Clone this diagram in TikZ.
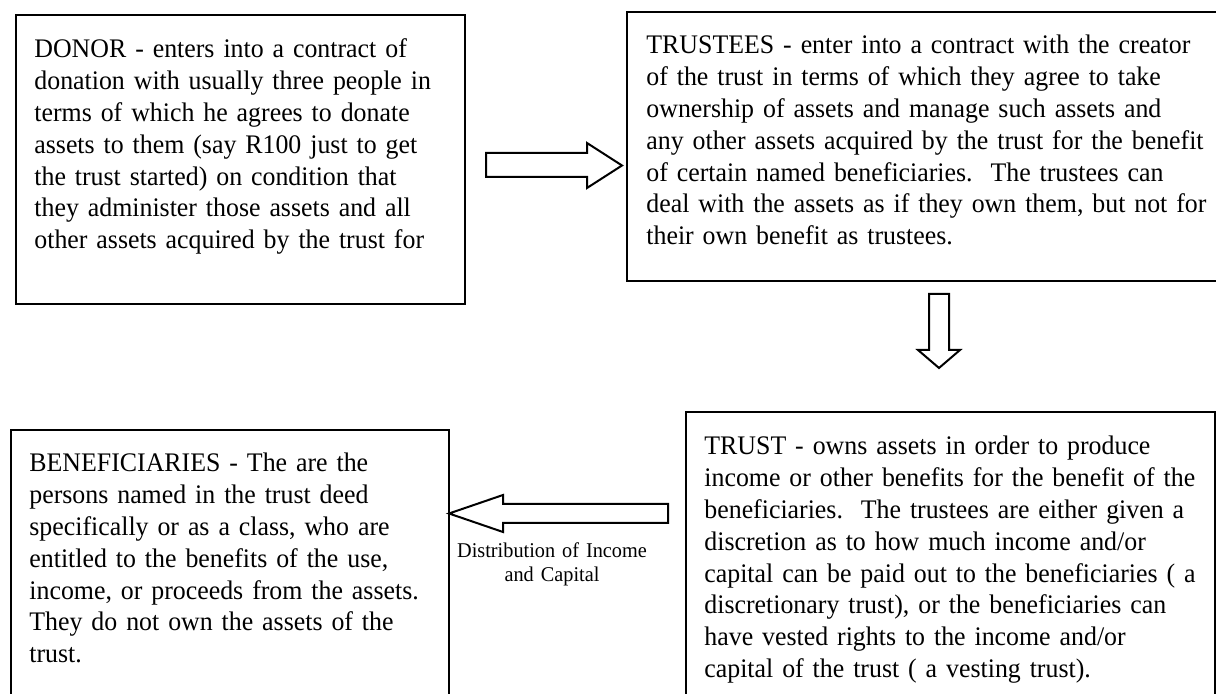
\documentclass[tikz,border=0pt]{standalone}
\usepackage{fontspec}
\setmainfont{Liberation Serif}[FakeStretch=0.965]
\usetikzlibrary{fit}
\begin{document}
\begin{tikzpicture}[x=0.5pt,y=-0.5pt,
  box/.style={draw, line width=1.2pt, inner sep=0pt},
  body/.style={anchor=base west, inner sep=0pt, text width=300pt, align=left,
    font=\fontsize{13.4}{15.9}\selectfont},
  blockarrow/.style={draw, line width=1pt, fill=white, line join=miter},
  caption/.style={anchor=base, inner sep=0pt, text width=110pt, align=center,
    font=\fontsize{10.5}{12}\selectfont}]
\useasboundingbox (0,0) rectangle (1216,694);
\clip (0,0) rectangle (1216,694);
\fill[white] (0,0) rectangle (1216,694);

% boxes
\node[box, fit={(16,15) (465,304)}] (donor) {};
\node[box, fit={(627,12) (1222,281)}] (trustees) {};
\node[box, fit={(686,412) (1215,702)}] (trust) {};
\node[box, fit={(11,430) (449,702)}] (benef) {};

% texts
\node[body] (donortext) at (34,58) {DONOR - enters into a contract of\\
donation with usually three people in\\
terms of which he agrees to donate\\
assets to them (say R100 just to get\\
the trust started) on condition that\\
they administer those assets and all\\
other assets acquired by the trust for};

\node[body] (trusteestext) at (646,54) {TRUSTEES - enter into a contract with the creator\\
of the trust in terms of which they agree to take\\
ownership of assets and manage such assets and\\
any other assets acquired by the trust for the benefit\\
of certain named beneficiaries.\ \ The trustees can\\
deal with the assets as if they own them, but not for\\
their own benefit as trustees.};

\node[body] (trusttext) at (704,455) {TRUST - owns assets in order to produce\\
income or other benefits for the benefit of the\\
beneficiaries.\ \ The trustees are either given a\\
discretion as to how much income and/or\\
capital can be paid out to the beneficiaries ( a\\
discretionary trust), or the beneficiaries can\\
have vested rights to the income and/or\\
capital of the trust ( a vesting trust).};

\node[body] (beneftext) at (29,472) {BENEFICIARIES - The are the\\
persons named in the trust deed\\
specifically or as a class, who are\\
entitled to the benefits of the use,\\
income, or proceeds from the assets.\\
They do not own the assets of the\\
trust.};

% block arrows
\draw[blockarrow] (486,153) -- (587,153) -- (587,143) -- (622,165.5) -- (587,188)
  -- (587,177) -- (486,177) -- cycle;
\draw[blockarrow] (929,294) -- (949,294) -- (949,350) -- (960,350) -- (939,368)
  -- (918,350) -- (929,350) -- cycle;
\draw[blockarrow] (668,504) -- (503,504) -- (503,495) -- (449,513.5) -- (503,532)
  -- (503,523) -- (668,523) -- cycle;

\node[caption] (distlabel) at (552,558) {Distribution of Income\\ and Capital};
\end{tikzpicture}
\end{document}
